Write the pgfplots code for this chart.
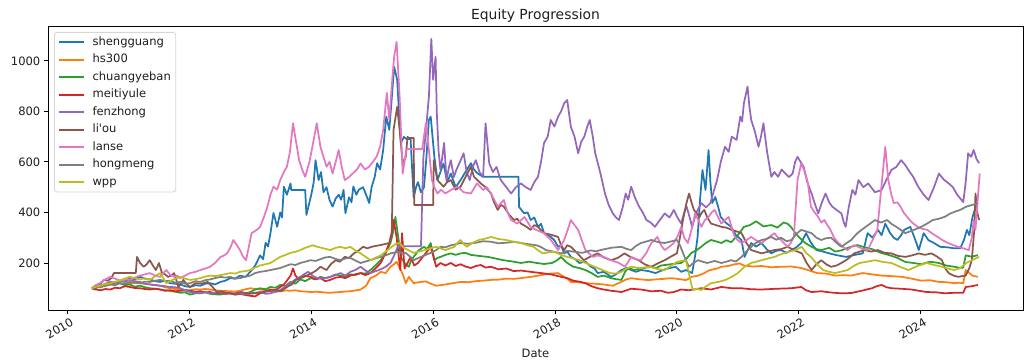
\documentclass[border=0pt]{standalone}
\usepackage{pgfplots}
\pgfplotsset{compat=1.18}
\usepackage{fontspec}
\setmainfont{DejaVu Sans}
\newfontfamily\rawfont{DejaVu Sans}[Ligatures=TeXOff]
\definecolor{c0}{RGB}{31,119,180}
\definecolor{c1}{RGB}{255,127,14}
\definecolor{c2}{RGB}{44,160,44}
\definecolor{c3}{RGB}{214,39,40}
\definecolor{c4}{RGB}{148,103,189}
\definecolor{c5}{RGB}{140,86,75}
\definecolor{c6}{RGB}{227,119,194}
\definecolor{c7}{RGB}{127,127,127}
\definecolor{c8}{RGB}{188,189,34}
\definecolor{lframe}{RGB}{214,214,214}
\definecolor{txt}{RGB}{30,30,30}
\begin{document}
\begin{tikzpicture}
\path[use as bounding box] (-34.6pt,-38.2pt) rectangle (708.5pt,223.2pt);
\begin{axis}[
  at={(0,0)}, anchor=south west,
  scale only axis, width=702pt, height=204.5pt,
  xmin=2009.68, xmax=2025.68, ymin=14, ymax=1138,
  xtick={2010,2012,2014,2016,2018,2020,2022,2024},
  ytick={200,400,600,800,1000},
  xticklabel style={rotate=30, anchor=north east, font=\fontsize{8.3}{10}\selectfont, inner sep=0.5pt, xshift=1pt, yshift=-2.4pt, text=txt},
  yticklabel style={font=\fontsize{8.3}{10}\selectfont, inner sep=2pt, xshift=-0.5pt, text=txt},
  /pgf/number format/.cd, assume math mode=true, set thousands separator={}, 1000 sep={},
  /pgfplots/.cd,
  xticklabel={\pgfmathprintnumber[precision=0,fixed,1000 sep={}]{\tick}},
  tick align=outside, xtick pos=bottom, ytick pos=left,
  major tick length=2.9pt,
  tick style={black, line width=0.66pt},
  axis line style={line width=0.66pt},
  title={Equity Progression},
  title style={yshift=-6.9pt, font=\fontsize{10}{12}\selectfont, text=txt},
  xlabel={Date},
  xlabel style={at={(axis description cs:0.5,0)}, anchor=center, yshift=-31pt, font=\fontsize{8.3}{10}\selectfont, text=txt},
  legend cell align=left,
  legend style={at={(0,1)}, anchor=north west, xshift=4.3pt, yshift=-4.3pt,
    draw=lframe, line width=0.6pt, rounded corners=2pt, inner xsep=2.9pt, inner ysep=0.8pt,
    font=\fontsize{8.3}{10}\selectfont, row sep=0pt, text=txt,
    nodes={inner xsep=0.7pt, inner ysep=2.2pt, text height=6.3pt, text depth=1.9pt},
    /tikz/every odd column/.append style={column sep=4.6pt}},
  legend image code/.code={\draw[#1] (0pt,0pt) -- (18pt,0pt);},
  every axis plot/.append style={line width=1.25pt, line join=round},
  clip=true,
]
% shengguang
\addplot[c0] coordinates {
(2010.40,100)(2010.48,108)(2010.55,115)(2010.62,110)(2010.70,125)(2010.78,120)(2010.86,130)(2010.94,126)(2011.02,140)(2011.10,135)(2011.19,145)(2011.27,138)(2011.35,135)(2011.44,128)(2011.52,125)(2011.60,130)(2011.68,120)(2011.77,118)(2011.85,115)(2011.93,108)(2012.01,105)(2012.10,112)(2012.18,110)(2012.26,118)(2012.34,120)(2012.42,115)(2012.51,125)(2012.59,130)(2012.67,140)(2012.75,138)(2012.83,150)(2012.92,145)(2013.00,165)(2013.08,190)(2013.16,230)(2013.21,215)(2013.25,280)(2013.29,265)(2013.33,318)(2013.38,398)(2013.44,343)(2013.49,400)(2013.52,380)(2013.55,502)(2013.60,470)(2013.66,515)(2013.67,489)(2013.90,489)(2013.92,390)(2013.96,430)(2014.00,470)(2014.04,520)(2014.07,607)(2014.12,528)(2014.16,560)(2014.20,480)(2014.25,500)(2014.30,449)(2014.35,423)(2014.40,455)(2014.45,470)(2014.49,450)(2014.53,489)(2014.56,397)(2014.62,460)(2014.66,440)(2014.69,503)(2014.74,470)(2014.78,490)(2014.85,500)(2014.90,470)(2014.95,437)(2014.99,500)(2015.04,540)(2015.08,595)(2015.13,570)(2015.18,647)(2015.23,779)(2015.28,727)(2015.32,850)(2015.36,976)(2015.41,925)(2015.44,795)(2015.47,675)(2015.52,699)(2015.56,691)(2015.63,691)(2015.64,640)(2015.68,460)(2015.72,500)(2015.75,520)(2015.80,480)(2015.85,500)(2015.89,620)(2015.93,766)(2015.96,779)(2016.02,620)(2016.07,528)(2016.12,560)(2016.17,594)(2016.23,520)(2016.29,554)(2016.37,500)(2016.45,528)(2016.53,560)(2016.62,595)(2016.67,570)(2016.72,556)(2016.82,541)(2016.89,541)(2017.40,541)(2017.41,422)(2017.49,397)(2017.55,400)(2017.60,370)(2017.66,380)(2017.72,343)(2017.77,355)(2017.82,318)(2017.93,303)(2017.99,290)(2018.05,264)(2018.10,270)(2018.15,238)(2018.20,245)(2018.26,224)(2018.33,215)(2018.40,200)(2018.50,205)(2018.59,185)(2018.65,178)(2018.70,160)(2018.80,165)(2018.92,145)(2019.00,155)(2019.09,172)(2019.17,180)(2019.25,172)(2019.33,165)(2019.41,172)(2019.53,168)(2019.65,160)(2019.80,175)(2019.98,185)(2020.07,165)(2020.15,172)(2020.25,160)(2020.30,230)(2020.34,303)(2020.38,450)(2020.42,568)(2020.47,489)(2020.52,647)(2020.55,520)(2020.58,437)(2020.63,461)(2020.68,420)(2020.72,382)(2020.80,360)(2020.89,343)(2020.97,310)(2021.06,291)(2021.11,224)(2021.16,250)(2021.22,279)(2021.30,265)(2021.39,279)(2021.47,255)(2021.55,238)(2021.63,248)(2021.71,251)(2021.80,240)(2021.88,251)(2021.96,262)(2022.04,279)(2022.12,318)(2022.20,280)(2022.29,251)(2022.40,245)(2022.50,238)(2022.64,230)(2022.78,224)(2022.92,232)(2023.05,238)(2023.13,318)(2023.21,300)(2023.30,331)(2023.36,310)(2023.42,356)(2023.50,318)(2023.56,300)(2023.62,291)(2023.68,310)(2023.73,331)(2023.83,343)(2023.90,300)(2023.97,251)(2024.05,318)(2024.13,290)(2024.22,279)(2024.32,264)(2024.44,262)(2024.55,258)(2024.65,258)(2024.71,290)(2024.76,331)(2024.80,310)(2024.85,380)(2024.90,420)(2024.94,470)
};
\addlegendentry{shengguang}
% hs300
\addplot[c1] coordinates {
(2010.40,100)(2010.48,106)(2010.55,110)(2010.62,108)(2010.70,115)(2010.78,118)(2010.86,120)(2010.94,116)(2011.02,118)(2011.10,122)(2011.19,120)(2011.27,117)(2011.35,115)(2011.44,113)(2011.52,110)(2011.60,104)(2011.68,100)(2011.77,97)(2011.85,95)(2011.93,93)(2012.01,92)(2012.10,96)(2012.18,95)(2012.26,97)(2012.34,95)(2012.42,92)(2012.51,90)(2012.59,89)(2012.67,88)(2012.75,87)(2012.83,90)(2012.92,96)(2013.00,100)(2013.08,97)(2013.16,95)(2013.25,92)(2013.33,90)(2013.41,86)(2013.49,88)(2013.58,91)(2013.66,90)(2013.74,92)(2013.82,88)(2013.90,87)(2013.99,85)(2014.07,86)(2014.15,85)(2014.23,83)(2014.31,82)(2014.40,84)(2014.48,85)(2014.56,87)(2014.64,88)(2014.72,91)(2014.81,95)(2014.90,110)(2014.97,140)(2015.06,150)(2015.14,165)(2015.22,160)(2015.30,185)(2015.36,195)(2015.40,205)(2015.47,172)(2015.51,150)(2015.55,120)(2015.60,145)(2015.68,120)(2015.74,123)(2015.80,125)(2015.88,127)(2015.96,118)(2016.05,110)(2016.12,112)(2016.20,115)(2016.32,120)(2016.45,125)(2016.58,124)(2016.70,128)(2016.82,130)(2016.95,133)(2017.07,134)(2017.20,138)(2017.32,137)(2017.44,140)(2017.60,145)(2017.68,148)(2017.77,152)(2017.85,155)(2017.93,158)(2018.05,160)(2018.10,152)(2018.15,145)(2018.20,138)(2018.26,125)(2018.38,124)(2018.50,120)(2018.65,118)(2018.80,115)(2018.88,112)(2018.95,110)(2019.02,118)(2019.09,125)(2019.17,135)(2019.25,140)(2019.33,137)(2019.41,135)(2019.53,132)(2019.65,135)(2019.78,137)(2019.90,140)(2019.98,138)(2020.07,135)(2020.15,132)(2020.24,145)(2020.35,150)(2020.45,160)(2020.52,170)(2020.60,175)(2020.66,178)(2020.73,185)(2020.84,188)(2020.95,195)(2021.03,198)(2021.10,190)(2021.25,186)(2021.39,188)(2021.55,183)(2021.71,185)(2021.88,186)(2022.04,180)(2022.15,172)(2022.30,160)(2022.45,158)(2022.60,150)(2022.73,152)(2022.86,150)(2022.95,155)(2023.05,160)(2023.20,155)(2023.36,150)(2023.52,148)(2023.70,145)(2023.85,138)(2024.01,130)(2024.15,132)(2024.30,125)(2024.42,124)(2024.55,120)(2024.63,122)(2024.70,120)(2024.74,172)(2024.80,160)(2024.85,150)(2024.94,145)
};
\addlegendentry{hs300}
% chuangyeban
\addplot[c2] coordinates {
(2010.40,100)(2010.47,108)(2010.55,105)(2010.62,112)(2010.70,115)(2010.78,124)(2010.86,120)(2010.94,112)(2011.02,115)(2011.10,106)(2011.19,110)(2011.27,104)(2011.35,100)(2011.44,98)(2011.52,95)(2011.60,92)(2011.68,90)(2011.77,86)(2011.85,82)(2011.93,84)(2012.01,75)(2012.10,80)(2012.18,80)(2012.26,84)(2012.34,78)(2012.42,76)(2012.51,75)(2012.59,79)(2012.67,80)(2012.75,75)(2012.83,78)(2012.92,80)(2013.00,85)(2013.08,95)(2013.16,100)(2013.25,96)(2013.33,105)(2013.41,102)(2013.49,113)(2013.58,110)(2013.66,125)(2013.74,118)(2013.82,135)(2013.90,128)(2013.99,140)(2014.07,135)(2014.15,145)(2014.23,140)(2014.31,145)(2014.40,155)(2014.48,150)(2014.56,148)(2014.64,155)(2014.72,152)(2014.81,160)(2014.89,158)(2014.97,172)(2015.05,190)(2015.14,211)(2015.22,240)(2015.30,279)(2015.34,320)(2015.38,382)(2015.41,331)(2015.44,280)(2015.47,224)(2015.53,200)(2015.60,185)(2015.64,210)(2015.68,224)(2015.76,250)(2015.85,264)(2015.90,255)(2015.96,279)(2016.02,211)(2016.07,220)(2016.12,224)(2016.20,232)(2016.29,238)(2016.37,232)(2016.45,238)(2016.53,240)(2016.62,232)(2016.75,228)(2016.90,224)(2017.02,218)(2017.15,211)(2017.30,206)(2017.44,200)(2017.57,205)(2017.70,200)(2017.82,196)(2017.95,200)(2018.03,210)(2018.10,224)(2018.20,200)(2018.30,185)(2018.40,180)(2018.50,172)(2018.60,160)(2018.70,145)(2018.80,150)(2018.92,140)(2019.00,136)(2019.09,133)(2019.15,165)(2019.20,180)(2019.30,172)(2019.41,178)(2019.50,182)(2019.58,185)(2019.66,180)(2019.74,190)(2019.90,195)(2020.07,200)(2020.15,215)(2020.24,240)(2020.32,250)(2020.40,264)(2020.48,280)(2020.56,291)(2020.65,285)(2020.73,279)(2020.81,290)(2020.89,282)(2021.00,310)(2021.10,343)(2021.20,350)(2021.30,365)(2021.42,345)(2021.55,350)(2021.65,340)(2021.75,360)(2021.82,355)(2021.88,340)(2021.94,320)(2022.00,303)(2022.10,280)(2022.21,264)(2022.29,255)(2022.37,251)(2022.50,260)(2022.60,245)(2022.70,250)(2022.83,262)(2022.96,271)(2023.08,262)(2023.20,255)(2023.35,240)(2023.50,230)(2023.62,220)(2023.75,204)(2023.88,200)(2024.01,195)(2024.15,205)(2024.30,200)(2024.42,190)(2024.55,185)(2024.65,180)(2024.70,182)(2024.74,230)(2024.84,225)(2024.94,231)
};
\addlegendentry{chuangyeban}
% meitiyule
\addplot[c3] coordinates {
(2010.40,100)(2010.47,95)(2010.55,92)(2010.62,97)(2010.70,95)(2010.78,102)(2010.86,100)(2010.94,108)(2011.02,105)(2011.10,101)(2011.19,100)(2011.27,97)(2011.35,95)(2011.44,98)(2011.52,95)(2011.60,90)(2011.68,92)(2011.77,88)(2011.85,90)(2011.93,92)(2012.01,90)(2012.10,86)(2012.18,88)(2012.26,84)(2012.34,85)(2012.42,80)(2012.51,82)(2012.59,78)(2012.67,80)(2012.75,75)(2012.83,78)(2012.92,73)(2013.00,70)(2013.08,68)(2013.16,80)(2013.25,88)(2013.33,95)(2013.41,92)(2013.49,105)(2013.55,115)(2013.60,130)(2013.66,150)(2013.70,178)(2013.74,150)(2013.78,140)(2013.88,150)(2013.99,145)(2014.07,135)(2014.15,140)(2014.23,128)(2014.31,133)(2014.40,142)(2014.48,145)(2014.56,140)(2014.64,150)(2014.72,155)(2014.81,160)(2014.89,152)(2014.97,160)(2015.06,180)(2015.14,200)(2015.21,235)(2015.28,279)(2015.32,320)(2015.35,370)(2015.40,303)(2015.46,172)(2015.49,318)(2015.53,178)(2015.58,200)(2015.63,224)(2015.69,190)(2015.75,200)(2015.85,230)(2015.96,264)(2016.00,230)(2016.05,185)(2016.12,200)(2016.20,190)(2016.29,200)(2016.37,188)(2016.45,195)(2016.53,186)(2016.62,180)(2016.70,188)(2016.78,192)(2016.86,182)(2016.95,185)(2017.07,175)(2017.20,178)(2017.32,168)(2017.44,170)(2017.60,165)(2017.77,160)(2017.93,155)(2018.10,145)(2018.20,140)(2018.30,130)(2018.40,126)(2018.50,120)(2018.60,108)(2018.70,100)(2018.80,95)(2018.92,90)(2019.00,88)(2019.09,85)(2019.25,98)(2019.41,95)(2019.58,88)(2019.74,90)(2019.85,82)(2019.95,85)(2020.07,95)(2020.20,92)(2020.40,100)(2020.56,95)(2020.73,105)(2020.90,100)(2021.06,100)(2021.22,96)(2021.39,95)(2021.64,98)(2021.88,100)(2022.04,105)(2022.12,92)(2022.21,85)(2022.37,88)(2022.53,83)(2022.70,80)(2022.86,81)(2023.03,90)(2023.20,100)(2023.28,108)(2023.36,113)(2023.44,104)(2023.52,100)(2023.68,98)(2023.85,95)(2023.97,90)(2024.10,85)(2024.25,84)(2024.40,80)(2024.55,82)(2024.70,82)(2024.74,105)(2024.84,108)(2024.94,113)
};
\addlegendentry{meitiyule}
% fenzhong
\addplot[c4] coordinates {
(2010.40,100)(2010.48,104)(2010.55,110)(2010.62,118)(2010.70,125)(2010.78,122)(2010.86,130)(2010.94,126)(2011.02,133)(2011.10,128)(2011.19,125)(2011.27,118)(2011.35,115)(2011.44,112)(2011.52,110)(2011.60,108)(2011.68,105)(2011.77,104)(2011.85,100)(2011.93,92)(2012.01,85)(2012.10,82)(2012.18,80)(2012.26,84)(2012.34,80)(2012.42,82)(2012.51,85)(2012.59,80)(2012.67,82)(2012.75,78)(2012.83,80)(2012.92,76)(2013.00,80)(2013.08,82)(2013.16,85)(2013.25,78)(2013.33,80)(2013.41,86)(2013.49,93)(2013.58,108)(2013.66,120)(2013.74,135)(2013.82,145)(2013.88,155)(2013.95,165)(2014.02,150)(2014.10,140)(2014.20,138)(2014.31,145)(2014.40,152)(2014.48,160)(2014.56,150)(2014.64,165)(2014.72,172)(2014.81,185)(2014.89,170)(2014.97,160)(2015.06,168)(2015.14,175)(2015.22,185)(2015.30,200)(2015.36,230)(2015.42,264)(2015.45,266)(2015.80,266)(2015.84,620)(2015.88,720)(2015.93,858)(2015.97,1087)(2016.00,925)(2016.04,1016)(2016.06,795)(2016.09,640)(2016.12,568)(2016.15,620)(2016.18,675)(2016.22,528)(2016.26,580)(2016.29,607)(2016.34,540)(2016.38,568)(2016.44,600)(2016.50,634)(2016.55,560)(2016.60,528)(2016.65,580)(2016.70,607)(2016.76,560)(2016.82,541)(2016.86,753)(2016.92,595)(2016.98,560)(2017.04,580)(2017.11,528)(2017.20,500)(2017.28,475)(2017.36,500)(2017.44,515)(2017.52,500)(2017.60,489)(2017.66,520)(2017.72,541)(2017.77,600)(2017.82,675)(2017.88,700)(2017.93,766)(2017.99,740)(2018.05,779)(2018.10,800)(2018.15,832)(2018.20,845)(2018.26,739)(2018.32,700)(2018.38,634)(2018.43,680)(2018.48,700)(2018.53,740)(2018.57,766)(2018.62,700)(2018.66,634)(2018.74,560)(2018.82,475)(2018.88,430)(2018.95,396)(2019.00,380)(2019.05,370)(2019.11,420)(2019.16,475)(2019.20,450)(2019.25,502)(2019.31,460)(2019.38,423)(2019.44,400)(2019.50,370)(2019.57,360)(2019.64,343)(2019.72,370)(2019.80,396)(2019.88,380)(2019.95,410)(2020.01,380)(2020.07,356)(2020.12,400)(2020.16,423)(2020.21,380)(2020.25,343)(2020.32,400)(2020.40,437)(2020.48,420)(2020.55,437)(2020.60,480)(2020.66,528)(2020.72,600)(2020.79,660)(2020.85,640)(2020.90,700)(2020.98,687)(2021.04,779)(2021.07,760)(2021.10,832)(2021.16,898)(2021.19,820)(2021.22,766)(2021.28,720)(2021.34,660)(2021.38,700)(2021.42,753)(2021.48,640)(2021.55,541)(2021.60,560)(2021.66,541)(2021.72,570)(2021.78,554)(2021.84,540)(2021.90,554)(2021.94,600)(2021.98,620)(2022.03,600)(2022.08,581)(2022.14,520)(2022.21,475)(2022.27,430)(2022.32,396)(2022.38,440)(2022.44,475)(2022.50,440)(2022.55,423)(2022.62,410)(2022.70,396)(2022.74,360)(2022.77,343)(2022.82,420)(2022.88,489)(2022.93,470)(2022.98,528)(2023.06,500)(2023.14,515)(2023.25,480)(2023.36,489)(2023.44,530)(2023.52,568)(2023.60,580)(2023.68,607)(2023.74,590)(2023.80,568)(2023.88,540)(2023.96,502)(2024.05,470)(2024.13,449)(2024.22,500)(2024.30,554)(2024.38,530)(2024.46,515)(2024.53,500)(2024.60,470)(2024.70,441)(2024.74,520)(2024.78,634)(2024.83,620)(2024.87,647)(2024.92,610)(2024.96,595)
};
\addlegendentry{fenzhong}
% li'ou
\addplot[c5] coordinates {
(2010.40,100)(2010.45,95)(2010.50,110)(2010.55,120)(2010.60,133)(2010.66,130)(2010.72,140)(2010.76,160)(2011.12,160)(2011.14,224)(2011.19,200)(2011.25,185)(2011.30,195)(2011.35,211)(2011.40,190)(2011.45,172)(2011.50,200)(2011.55,160)(2011.60,155)(2011.65,145)(2011.70,150)(2011.75,160)(2011.82,105)(2011.90,133)(2011.95,118)(2012.01,105)(2012.10,120)(2012.20,118)(2012.30,125)(2012.38,105)(2012.45,85)(2012.52,88)(2012.60,81)(2012.72,78)(2012.85,85)(2012.97,78)(2013.10,81)(2013.25,86)(2013.40,93)(2013.50,88)(2013.60,105)(2013.68,115)(2013.75,133)(2013.88,145)(2014.01,160)(2014.08,170)(2014.15,185)(2014.25,172)(2014.32,195)(2014.40,211)(2014.47,205)(2014.55,224)(2014.62,220)(2014.70,238)(2014.78,250)(2014.85,264)(2014.92,258)(2014.99,264)(2015.07,268)(2015.14,271)(2015.21,275)(2015.28,279)(2015.32,303)(2015.35,727)(2015.41,818)(2015.45,727)(2015.50,594)(2015.55,620)(2015.58,699)(2015.60,695)(2015.68,695)(2015.69,429)(2016.00,429)(2016.01,607)(2016.07,528)(2016.12,515)(2016.17,502)(2016.23,520)(2016.29,528)(2016.37,490)(2016.45,502)(2016.53,540)(2016.62,581)(2016.67,541)(2016.72,530)(2016.78,515)(2016.86,500)(2016.95,475)(2017.00,440)(2017.06,410)(2017.11,430)(2017.16,423)(2017.25,390)(2017.33,370)(2017.38,375)(2017.44,356)(2017.52,345)(2017.60,331)(2017.66,350)(2017.72,343)(2017.77,330)(2017.82,318)(2017.93,312)(2018.05,303)(2018.10,270)(2018.15,251)(2018.20,270)(2018.26,264)(2018.36,240)(2018.47,211)(2018.58,225)(2018.70,238)(2018.80,222)(2018.92,211)(2019.03,220)(2019.14,238)(2019.25,222)(2019.37,211)(2019.47,195)(2019.58,185)(2019.70,200)(2019.80,211)(2019.90,225)(2020.00,238)(2020.05,300)(2020.10,370)(2020.15,430)(2020.20,475)(2020.24,440)(2020.28,410)(2020.33,395)(2020.37,382)(2020.41,400)(2020.45,410)(2020.50,380)(2020.56,356)(2020.64,350)(2020.73,343)(2020.81,340)(2020.90,331)(2020.98,325)(2021.06,318)(2021.14,280)(2021.22,251)(2021.30,245)(2021.39,238)(2021.50,245)(2021.60,251)(2021.71,255)(2021.82,264)(2021.93,250)(2022.05,238)(2022.13,200)(2022.21,172)(2022.29,195)(2022.37,211)(2022.45,195)(2022.53,185)(2022.62,190)(2022.70,200)(2022.80,215)(2022.91,238)(2023.00,245)(2023.08,251)(2023.19,245)(2023.30,251)(2023.41,240)(2023.52,238)(2023.63,228)(2023.75,224)(2023.86,230)(2023.97,238)(2024.07,232)(2024.18,238)(2024.27,225)(2024.35,211)(2024.40,180)(2024.46,160)(2024.54,150)(2024.62,145)(2024.68,148)(2024.74,150)(2024.80,180)(2024.84,211)(2024.88,330)(2024.90,475)(2024.93,400)(2024.96,370)
};
\addlegendentry{{\rawfont li'ou}}
% lanse
\addplot[c6] coordinates {
(2010.40,100)(2010.46,112)(2010.53,120)(2010.62,135)(2010.70,145)(2010.78,138)(2010.86,130)(2010.94,138)(2011.02,133)(2011.10,142)(2011.19,150)(2011.27,155)(2011.35,160)(2011.44,150)(2011.52,145)(2011.57,160)(2011.62,172)(2011.68,155)(2011.75,145)(2011.80,150)(2011.85,140)(2011.93,150)(2012.01,160)(2012.10,165)(2012.18,172)(2012.26,178)(2012.34,185)(2012.42,200)(2012.51,224)(2012.57,230)(2012.62,238)(2012.68,265)(2012.72,291)(2012.78,270)(2012.83,251)(2012.88,225)(2012.93,211)(2012.98,270)(2013.02,318)(2013.10,330)(2013.16,343)(2013.22,380)(2013.28,423)(2013.33,470)(2013.38,502)(2013.44,490)(2013.49,528)(2013.55,560)(2013.60,581)(2013.65,640)(2013.70,753)(2013.75,680)(2013.80,607)(2013.85,570)(2013.90,541)(2013.97,600)(2014.03,675)(2014.09,753)(2014.15,660)(2014.20,620)(2014.25,581)(2014.30,600)(2014.35,554)(2014.40,600)(2014.45,647)(2014.50,580)(2014.55,528)(2014.62,540)(2014.68,554)(2014.75,570)(2014.81,594)(2014.88,570)(2014.95,581)(2015.01,600)(2015.07,620)(2015.13,660)(2015.18,727)(2015.24,873)(2015.28,766)(2015.32,900)(2015.36,1016)(2015.40,1075)(2015.45,858)(2015.50,554)(2015.56,647)(2015.58,651)(2015.82,651)(2015.88,753)(2015.93,647)(2015.98,528)(2016.02,500)(2016.07,475)(2016.13,490)(2016.20,475)(2016.30,490)(2016.40,502)(2016.50,480)(2016.62,475)(2016.72,515)(2016.82,489)(2016.88,500)(2016.95,475)(2017.06,423)(2017.16,449)(2017.22,400)(2017.28,370)(2017.38,356)(2017.50,382)(2017.60,343)(2017.70,330)(2017.82,318)(2017.93,291)(2018.05,251)(2018.10,270)(2018.15,291)(2018.22,340)(2018.26,370)(2018.32,350)(2018.38,331)(2018.44,290)(2018.50,251)(2018.62,224)(2018.70,230)(2018.80,224)(2018.92,211)(2019.05,200)(2019.15,185)(2019.25,224)(2019.33,215)(2019.41,211)(2019.50,240)(2019.58,279)(2019.68,303)(2019.74,270)(2019.80,251)(2019.88,265)(2019.95,279)(2020.02,310)(2020.07,343)(2020.12,300)(2020.18,279)(2020.25,340)(2020.30,397)(2020.35,370)(2020.40,343)(2020.46,370)(2020.52,382)(2020.57,400)(2020.62,410)(2020.68,380)(2020.73,356)(2020.79,370)(2020.85,382)(2020.90,340)(2020.95,303)(2021.00,290)(2021.06,279)(2021.14,290)(2021.22,303)(2021.30,290)(2021.39,279)(2021.50,300)(2021.60,318)(2021.66,300)(2021.71,291)(2021.77,275)(2021.82,264)(2021.87,280)(2021.92,303)(2021.95,420)(2021.98,528)(2022.04,594)(2022.10,560)(2022.15,516)(2022.20,423)(2022.26,400)(2022.32,382)(2022.37,360)(2022.42,370)(2022.47,350)(2022.52,331)(2022.58,300)(2022.65,279)(2022.72,265)(2022.80,251)(2022.90,270)(2022.98,264)(2023.05,255)(2023.13,251)(2023.21,290)(2023.29,331)(2023.34,461)(2023.38,560)(2023.42,660)(2023.47,528)(2023.52,470)(2023.56,437)(2023.62,440)(2023.67,423)(2023.72,400)(2023.78,382)(2023.86,360)(2023.95,343)(2024.03,335)(2024.11,331)(2024.20,315)(2024.28,303)(2024.36,290)(2024.45,279)(2024.54,270)(2024.62,264)(2024.70,258)(2024.79,251)(2024.84,300)(2024.87,370)(2024.90,331)(2024.94,461)(2024.97,554)
};
\addlegendentry{lanse}
% hongmeng
\addplot[c7] coordinates {
(2010.40,100)(2010.47,108)(2010.55,105)(2010.62,112)(2010.70,115)(2010.78,112)(2010.86,120)(2010.94,118)(2011.02,125)(2011.10,122)(2011.19,120)(2011.27,126)(2011.35,125)(2011.44,130)(2011.52,133)(2011.60,128)(2011.68,130)(2011.77,122)(2011.85,125)(2011.93,118)(2012.01,120)(2012.10,128)(2012.18,125)(2012.26,132)(2012.34,135)(2012.42,140)(2012.51,145)(2012.59,142)(2012.67,145)(2012.75,138)(2012.83,140)(2012.92,146)(2013.00,150)(2013.08,160)(2013.16,165)(2013.25,168)(2013.33,172)(2013.41,176)(2013.49,180)(2013.58,188)(2013.66,195)(2013.74,192)(2013.82,200)(2013.90,205)(2013.99,211)(2014.07,208)(2014.15,215)(2014.23,222)(2014.31,224)(2014.40,216)(2014.48,211)(2014.56,218)(2014.64,220)(2014.72,210)(2014.81,200)(2014.89,206)(2014.97,211)(2015.05,218)(2015.14,224)(2015.22,230)(2015.30,238)(2015.38,242)(2015.45,244)(2015.50,236)(2015.55,240)(2015.62,225)(2015.68,211)(2015.74,218)(2015.80,224)(2015.88,232)(2015.96,240)(2016.00,245)(2016.05,251)(2016.12,264)(2016.20,262)(2016.29,270)(2016.37,274)(2016.45,279)(2016.57,276)(2016.70,280)(2016.82,286)(2016.95,284)(2017.07,278)(2017.20,280)(2017.32,284)(2017.45,279)(2017.57,274)(2017.70,270)(2017.78,262)(2017.85,251)(2017.97,245)(2018.10,238)(2018.20,248)(2018.30,245)(2018.45,240)(2018.59,250)(2018.67,246)(2018.76,252)(2018.84,256)(2018.92,260)(2019.00,262)(2019.09,264)(2019.17,256)(2019.25,251)(2019.33,268)(2019.41,279)(2019.50,285)(2019.58,291)(2019.70,282)(2019.80,279)(2019.90,285)(2020.00,291)(2020.05,270)(2020.10,240)(2020.15,210)(2020.20,185)(2020.27,200)(2020.35,211)(2020.42,205)(2020.50,200)(2020.62,208)(2020.73,200)(2020.81,205)(2020.89,211)(2020.97,206)(2021.06,224)(2021.14,245)(2021.22,264)(2021.30,280)(2021.39,291)(2021.47,295)(2021.55,303)(2021.63,292)(2021.71,300)(2021.80,286)(2021.88,291)(2021.96,315)(2022.04,331)(2022.12,325)(2022.21,318)(2022.29,300)(2022.37,291)(2022.45,298)(2022.53,300)(2022.62,280)(2022.70,264)(2022.78,278)(2022.86,291)(2022.95,315)(2023.03,331)(2023.14,350)(2023.25,370)(2023.35,360)(2023.45,370)(2023.52,355)(2023.60,343)(2023.68,330)(2023.75,318)(2023.88,330)(2024.01,343)(2024.10,355)(2024.20,370)(2024.30,375)(2024.40,383)(2024.48,395)(2024.56,403)(2024.65,410)(2024.75,423)(2024.85,430)(2024.94,437)
};
\addlegendentry{hongmeng}
% wpp
\addplot[c8] coordinates {
(2010.40,100)(2010.47,106)(2010.53,110)(2010.62,116)(2010.70,120)(2010.78,126)(2010.86,130)(2010.94,138)(2011.02,145)(2011.10,140)(2011.19,135)(2011.27,140)(2011.35,133)(2011.44,148)(2011.52,160)(2011.57,140)(2011.62,120)(2011.74,135)(2011.85,145)(2011.93,138)(2012.01,133)(2012.10,136)(2012.18,140)(2012.26,146)(2012.34,150)(2012.42,148)(2012.51,152)(2012.59,156)(2012.67,160)(2012.75,158)(2012.83,165)(2012.92,168)(2013.00,172)(2013.08,182)(2013.16,190)(2013.25,195)(2013.33,200)(2013.41,212)(2013.49,224)(2013.58,232)(2013.66,240)(2013.74,244)(2013.82,251)(2013.88,258)(2013.95,264)(2014.02,270)(2014.10,264)(2014.20,258)(2014.31,251)(2014.40,260)(2014.48,264)(2014.56,258)(2014.64,264)(2014.72,250)(2014.81,238)(2014.89,225)(2014.97,211)(2015.05,220)(2015.14,230)(2015.22,245)(2015.30,260)(2015.38,275)(2015.45,279)(2015.52,260)(2015.60,250)(2015.68,240)(2015.76,245)(2015.85,250)(2015.95,258)(2016.05,264)(2016.12,258)(2016.20,251)(2016.28,258)(2016.35,264)(2016.40,280)(2016.45,291)(2016.50,275)(2016.55,264)(2016.65,280)(2016.75,291)(2016.85,296)(2016.95,303)(2017.07,295)(2017.20,291)(2017.32,284)(2017.44,279)(2017.55,270)(2017.65,264)(2017.72,250)(2017.80,238)(2017.90,242)(2017.99,244)(2018.10,232)(2018.20,224)(2018.30,218)(2018.40,211)(2018.52,198)(2018.65,185)(2018.78,172)(2018.90,160)(2019.00,158)(2019.09,165)(2019.17,178)(2019.25,185)(2019.40,180)(2019.55,185)(2019.68,176)(2019.80,172)(2019.90,188)(2020.00,204)(2020.08,208)(2020.15,211)(2020.22,133)(2020.26,93)(2020.33,98)(2020.40,93)(2020.48,108)(2020.56,120)(2020.68,125)(2020.80,133)(2020.90,145)(2021.00,160)(2021.11,185)(2021.22,200)(2021.30,205)(2021.39,211)(2021.50,218)(2021.60,224)(2021.68,232)(2021.75,238)(2021.85,245)(2021.95,251)(2022.00,258)(2022.05,264)(2022.12,240)(2022.20,224)(2022.30,195)(2022.40,172)(2022.50,165)(2022.60,160)(2022.70,166)(2022.80,172)(2022.90,188)(2023.00,200)(2023.12,205)(2023.25,211)(2023.38,204)(2023.52,200)(2023.66,185)(2023.80,172)(2023.95,188)(2024.10,200)(2024.22,192)(2024.35,185)(2024.45,178)(2024.55,172)(2024.65,180)(2024.75,200)(2024.85,212)(2024.96,224)
};
\addlegendentry{wpp}
\end{axis}
\end{tikzpicture}
\end{document}
